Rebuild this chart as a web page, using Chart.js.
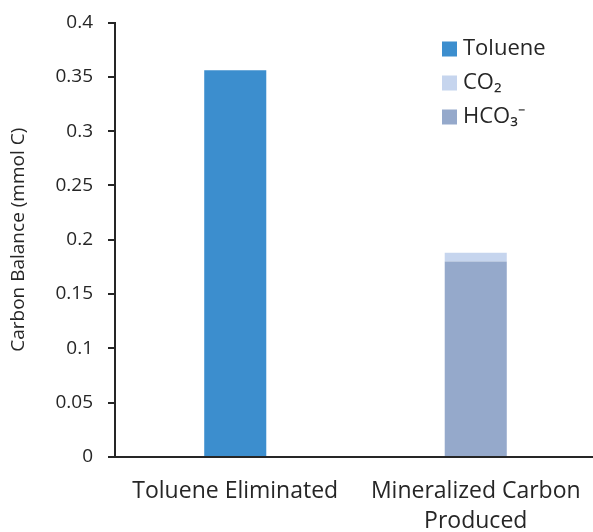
<!DOCTYPE html>
<html lang="en">
<head>
    <meta charset="UTF-8">
    <title>Carbon Balance</title>
    <script src="https://cdn.jsdelivr.net/npm/chart.js"></script>
    <style>
        html, body {
            margin: 0;
            padding: 0;
            background: #fff;
            overflow: hidden;
        }
        .chart-box {
            position: absolute;
            left: 0;
            top: 0;
            width: 596px;
            height: 532px;
        }
    </style>
</head>
<body>
    <div class="chart-box">
        <canvas id="balanceChart"></canvas>
    </div>

    <script>
        const categories = ['Toluene Eliminated', ['Mineralized Carbon', 'Produced']];
        const tolueneValues = [0.356, null];
        const hco3Values = [null, 0.18];
        const co2Values = [null, 0.008];
        const yTicks = [0, 0.05, 0.1, 0.15, 0.2, 0.25, 0.3, 0.35, 0.4];

        const FONT = "'Open Sans', sans-serif";
        const INK = '#262626';

        // legend drawn inside the plot, top right, in the order of the original
        const insideLegend = {
            id: 'insideLegend',
            afterDraw(chart) {
                const ctx = chart.ctx;
                const order = [0, 2, 1];
                ctx.save();
                ctx.font = '22px ' + FONT;
                ctx.textBaseline = 'middle';
                order.forEach((di, i) => {
                    const ds = chart.data.datasets[di];
                    const y = 49 + i * 34;
                    ctx.fillStyle = ds.backgroundColor;
                    ctx.fillRect(442, y - 7.5, 15, 15);
                    ctx.fillStyle = INK;
                    ctx.fillText(ds.label, 463, y);
                });
                ctx.restore();
            }
        };

        const ctx = document.getElementById('balanceChart').getContext('2d');
        new Chart(ctx, {
            type: 'bar',
            data: {
                labels: categories,
                datasets: [
                    {
                        label: 'Toluene',
                        data: tolueneValues,
                        backgroundColor: '#3c8ece'
                    },
                    {
                        label: 'HCO₃⁻',
                        data: hco3Values,
                        backgroundColor: '#95a9cb'
                    },
                    {
                        label: 'CO₂',
                        data: co2Values,
                        backgroundColor: '#c6d5ee'
                    }
                ]
            },
            options: {
                responsive: true,
                maintainAspectRatio: false,
                animation: false,
                layout: {
                    padding: { top: 22.5, right: 0, bottom: 0, left: 0 }
                },
                datasets: {
                    bar: {
                        categoryPercentage: 1,
                        barPercentage: 0.258
                    }
                },
                plugins: {
                    legend: { display: false },
                    tooltip: { enabled: false }
                },
                scales: {
                    x: {
                        stacked: true,
                        grid: { drawOnChartArea: false, drawTicks: false },
                        border: { color: INK, width: 2 },
                        ticks: {
                            color: INK,
                            font: { family: FONT, size: 23, lineHeight: 1.33 },
                            padding: 19,
                            maxRotation: 0
                        },
                        afterFit(scale) {
                            scale.height = 75;
                            scale.paddingLeft = 0;
                            scale.paddingRight = 0;
                        }
                    },
                    y: {
                        stacked: true,
                        min: 0,
                        max: 0.4,
                        afterBuildTicks(scale) {
                            scale.ticks = yTicks.map(v => ({ value: v }));
                        },
                        grid: {
                            drawOnChartArea: false,
                            drawTicks: true,
                            tickLength: 7,
                            color: INK,
                            lineWidth: 2
                        },
                        border: { color: INK, width: 2 },
                        ticks: {
                            color: INK,
                            font: { family: FONT, size: 19 },
                            padding: 15,
                            callback: v => String(v)
                        },
                        title: {
                            display: true,
                            text: 'Carbon Balance (mmol C)',
                            color: INK,
                            font: { family: FONT, size: 19 },
                            padding: { top: 7, bottom: 0 }
                        },
                        afterFit(scale) {
                            scale.width = 115;
                            scale.paddingTop = 0;
                            scale.paddingBottom = 0;
                        }
                    }
                }
            },
            plugins: [insideLegend]
        });
    </script>
</body>
</html>
